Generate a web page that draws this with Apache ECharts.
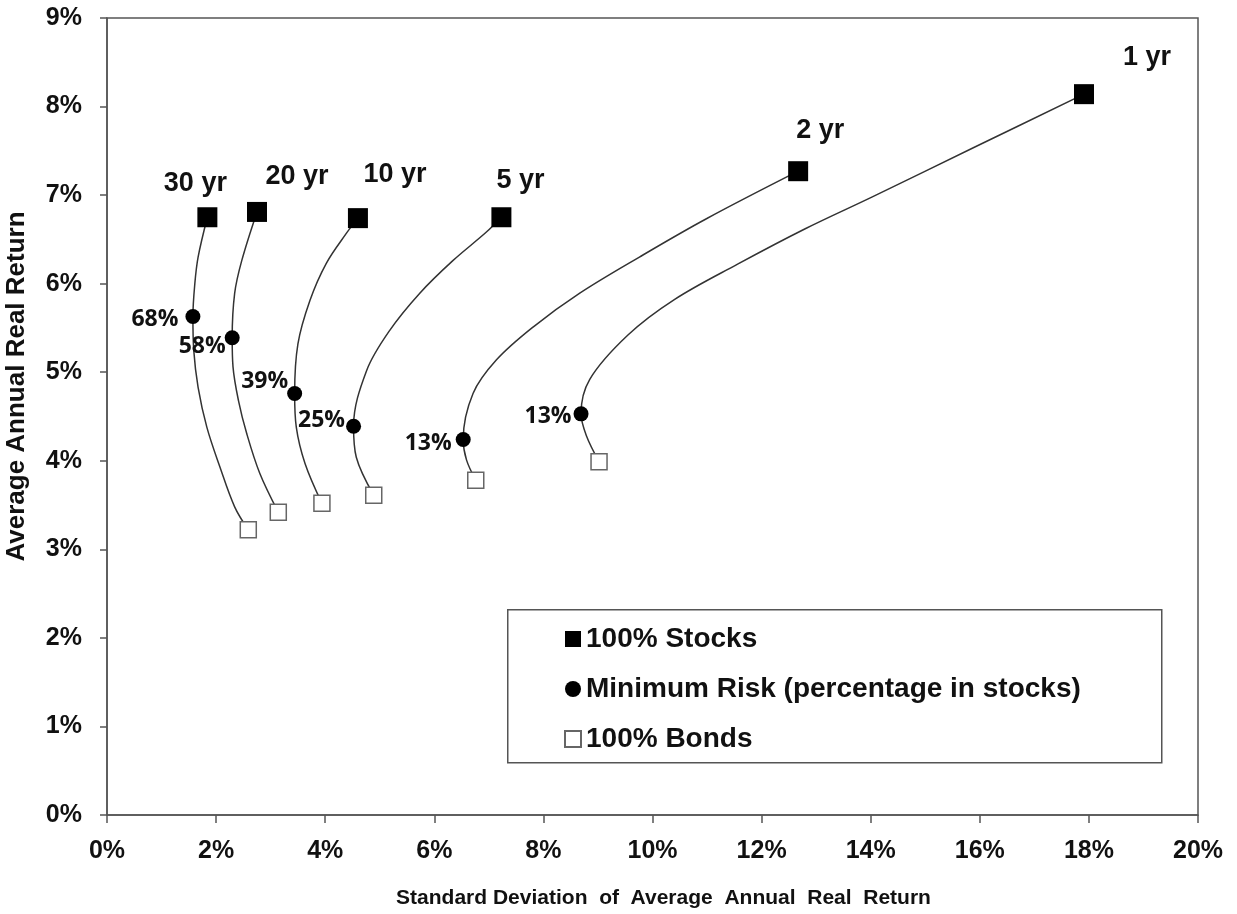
<!DOCTYPE html>
<html>
<head>
<meta charset="utf-8">
<script src="https://cdn.jsdelivr.net/npm/echarts@6/dist/echarts.min.js"></script>
<style>
html,body{margin:0;padding:0;background:#fff;}
#chart{width:1237px;height:914px;}
</style>
</head>
<body>
<div id="chart"></div>
<script>
// ---- data (percent units) ----
const horizons = ['30 yr', '20 yr', '10 yr', '5 yr', '2 yr', '1 yr'];
// 100% stocks: [std dev, return]
const stocks = [[1.84, 6.75], [2.75, 6.81], [4.60, 6.74], [7.23, 6.75], [12.67, 7.27], [17.91, 8.14]];
// minimum-risk portfolios: [std dev, return]
const minRisk = [[1.575, 5.63], [2.295, 5.39], [3.44, 4.76], [4.52, 4.39], [6.53, 4.24], [8.69, 4.53]];
const minRiskShare = ['68%', '58%', '39%', '25%', '13%', '13%'];
// 100% bonds: [std dev, return]
const bonds = [[2.59, 3.22], [3.14, 3.42], [3.94, 3.52], [4.89, 3.61], [6.76, 3.78], [9.02, 3.99]];
// frontier curves (stocks -> min risk -> bonds)
const curve30 = [[1.84,6.75],[1.67,6.30],[1.61,6.00],[1.575,5.63],[1.59,5.25],[1.67,4.83],[1.83,4.38],[2.07,3.93],[2.34,3.48],[2.59,3.22]];
const curve20 = [[2.75,6.81],[2.47,6.26],[2.34,5.89],[2.295,5.39],[2.31,5.06],[2.41,4.68],[2.56,4.31],[2.80,3.86],[3.14,3.42]];
const curve10 = [[4.60,6.74],[4.39,6.57],[4.02,6.23],[3.72,5.81],[3.50,5.32],[3.44,4.76],[3.47,4.38],[3.63,3.97],[3.94,3.52]];
const curve5  = [[7.23,6.75],[6.95,6.58],[6.34,6.26],[5.73,5.89],[5.18,5.47],[4.76,5.02],[4.52,4.39],[4.57,4.04],[4.89,3.61]];
const curve2  = [[12.67,7.27],[10.98,6.73],[9.76,6.30],[8.66,5.89],[7.81,5.51],[7.14,5.14],[6.71,4.76],[6.53,4.24],[6.59,4.01],[6.76,3.78]];
const curve1  = [[17.91,8.14],[15.90,7.54],[14.03,6.98],[12.80,6.62],[11.56,6.22],[10.40,5.82],[9.55,5.42],[8.85,4.92],[8.69,4.53],[8.79,4.28],[9.02,3.99]];
const curves = [curve30, curve20, curve10, curve5, curve2, curve1];
const legendNames = ['100% Stocks', 'Minimum Risk (percentage in stocks)', '100% Bonds'];
const xTitle = 'Standard Deviation  of  Average  Annual  Real  Return';
const yTitle = 'Average Annual Real Return';

// ---- styling (label placement, not data) ----
const stockLabelOffsets = [[-12, -34], [40, -35], [37, -44], [19, -37], [22, -41], [63, -37]];
const minLabelOffsets = [[-38, 3], [-30, 9], [-30, -12], [-32, -6], [-35, 4], [-33, 3]];

const FONT = '"Liberation Sans", Arial, sans-serif';
const chart = echarts.init(document.getElementById('chart'));

const lineSeries = curves.map((c, i) => ({
  type: 'line',
  name: 'curve' + i,
  data: c,
  smooth: 0.35,
  showSymbol: false,
  symbol: 'none',
  lineStyle: { color: '#333', width: 1.5 },
  z: 2,
  silent: true
}));

const option = {
  animation: false,
  backgroundColor: '#fff',
  grid: { left: 107, right: 39, top: 18, bottom: 99, outerBoundsMode: 'none', containLabel: false,
    show: true, borderColor: '#555', borderWidth: 1.5, backgroundColor: 'transparent' },
  xAxis: {
    type: 'value', min: 0, max: 20, interval: 2,
    name: xTitle, nameLocation: 'middle', nameGap: 73,
    nameTextStyle: { fontFamily: FONT, fontWeight: 'bold', fontSize: 21, color: '#111', padding: [0, 0, 0, 22] },
    axisLine: { show: true, onZero: false, lineStyle: { color: '#555', width: 1.5 } },
    axisTick: { show: true, length: 8, lineStyle: { color: '#555', width: 1.5 } },
    axisLabel: { formatter: '{value}%', fontFamily: FONT, fontWeight: 'bold', fontSize: 25, color: '#111', margin: 24 },
    splitLine: { show: false }
  },
  yAxis: {
    type: 'value', min: 0, max: 9, interval: 1,
    name: yTitle, nameLocation: 'middle', nameGap: 77, nameRotate: 90,
    nameTextStyle: { fontFamily: FONT, fontWeight: 'bold', fontSize: 26, color: '#111', padding: [0, 0, 0, 60] },
    axisLine: { show: true, onZero: false, lineStyle: { color: '#555', width: 1.5 } },
    axisTick: { show: true, length: 7, lineStyle: { color: '#555', width: 1.5 } },
    axisLabel: { formatter: '{value}%', fontFamily: FONT, fontWeight: 'bold', fontSize: 25, color: '#111', margin: 25 },
    splitLine: { show: false }
  },
  legend: {
    data: legendNames,
    orient: 'vertical',
    left: 559, top: 620,
    itemWidth: 16, itemHeight: 16, itemGap: 22,
    textStyle: { fontFamily: FONT, fontWeight: 'bold', fontSize: 28, color: '#111' },
    selectedMode: false
  },
  graphic: [{
    type: 'rect', left: 507, top: 609, z: 1,
    shape: { width: 654, height: 153 },
    style: { fill: '#fff', stroke: '#555', lineWidth: 1.5 }
  }],
  series: [
    ...lineSeries,
    {
      type: 'scatter', name: legendNames[0], z: 5,
      symbol: 'rect', symbolSize: 20,
      itemStyle: { color: '#000', opacity: 1 },
      data: stocks.map((p, i) => ({
        value: p,
        label: { show: true, formatter: horizons[i], position: 'inside', offset: stockLabelOffsets[i],
          fontFamily: FONT, fontWeight: 'bold', fontSize: 27, color: '#111' }
      }))
    },
    {
      type: 'scatter', name: legendNames[1], z: 5,
      symbol: 'circle', symbolSize: 15,
      itemStyle: { color: '#000', opacity: 1 },
      data: minRisk.map((p, i) => ({
        value: p,
        label: { show: true, formatter: minRiskShare[i], position: 'inside', offset: minLabelOffsets[i],
          fontFamily: '"Open Sans", sans-serif', fontWeight: 'bold', fontSize: 23, color: '#111' }
      }))
    },
    {
      type: 'scatter', name: legendNames[2], z: 5,
      symbol: 'rect', symbolSize: 16,
      itemStyle: { color: '#fff', borderColor: '#666', borderWidth: 1.5, opacity: 1 },
      data: bonds
    }
  ]
};
chart.setOption(option);
</script>
</body>
</html>
